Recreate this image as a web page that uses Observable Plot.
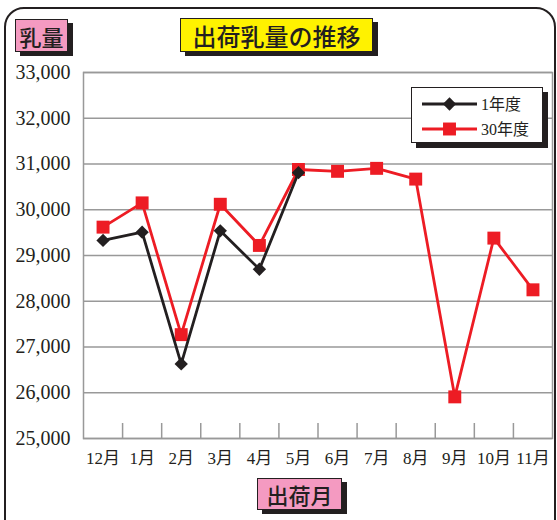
<!DOCTYPE html>
<html><head><meta charset="utf-8">
<script src="https://cdn.jsdelivr.net/npm/d3@7"></script>
<script src="https://cdn.jsdelivr.net/npm/@observablehq/plot@0.6"></script>
<style>
body{margin:0;background:#fff;}
#wrap{position:relative;width:557px;height:520px;overflow:hidden;background:#fff;}
#wrap svg.plot{position:absolute;left:0;top:0;}
.box{position:absolute;box-sizing:border-box;border:1px solid #231f20;box-shadow:5px 4px 0 #231f20;color:#231f20;
 font-family:"Noto Sans CJK JP",sans-serif;font-weight:500;display:flex;align-items:center;justify-content:center;}
#border{position:absolute;left:4px;top:7px;width:552px;height:540px;box-sizing:border-box;border:2.5px solid #231f20;border-radius:20px;}
#legend{position:absolute;left:411px;top:87px;width:132px;height:56px;box-sizing:border-box;border:1.5px solid #231f20;background:#fff;box-shadow:5px 5px 0 #231f20;}
</style></head>
<body>
<div id="wrap">
<div id="border"></div>
</div>
<script>
const months = ["12月","1月","2月","3月","4月","5月","6月","7月","8月","9月","10月","11月"];
const seriesNames = ["1年度","30年度"];
const values1 = [29330, 29510, 26630, 29540, 28700, 30810];
const values2 = [29620, 30150, 27270, 30120, 29220, 30880, 30840, 30905, 30670, 25910, 29380, 28250];
const yTicks = [25000, 26000, 27000, 28000, 29000, 30000, 31000, 32000, 33000];
const titleText = "出荷乳量の推移";
const yTitle = "乳量";
const xTitle = "出荷月";
const colors = ["#231f20", "#ed1c24"];

const d1 = values1.map((v, i) => ({i, v}));
const d2 = values2.map((v, i) => ({i, v}));
const idx = months.map((m, i) => i);
const bounds = months.slice(1).map((m, i) => i + 0.5);

const chart = Plot.plot({
  width: 557, height: 520,
  marginLeft: 83, marginRight: 5, marginTop: 72, marginBottom: 82,
  x: {domain: [-0.5, months.length - 0.5]},
  y: {domain: [yTicks[0], yTicks[yTicks.length - 1]]},
  style: {background: "transparent", fontFamily: "'Liberation Serif','Noto Sans CJK JP',serif", color: "#231f20"},
  marks: [
    Plot.gridY(yTicks, {stroke: "#999", strokeOpacity: 1, strokeWidth: 1.5}),
    Plot.frame({stroke: "#999", strokeWidth: 1.5}),
    Plot.axisX(bounds, {tickSize: -15, stroke: "#999", strokeWidth: 1.5, tickFormat: null, text: null, label: null}),
    Plot.axisX(idx, {tickSize: 0, tickPadding: 13, tickFormat: i => months[i], fontSize: 17, label: null, fill: "#231f20"}),
    Plot.axisY(yTicks, {tickSize: 0, tickPadding: 13, tickFormat: d3.format(","), fontSize: 20, label: null, fill: "#231f20"}),
    Plot.line(d2, {x: "i", y: "v", stroke: colors[1], strokeWidth: 2.8}),
    Plot.dot(d2, {x: "i", y: "v", symbol: "square", r: 7.3, fill: colors[1], stroke: "none"}),
    Plot.line(d1, {x: "i", y: "v", stroke: colors[0], strokeWidth: 2.8}),
    Plot.dot(d1, {x: "i", y: "v", symbol: "diamond2", r: 6, fill: colors[0], stroke: "none"})
  ]
});
chart.classList.add("plot");
const wrap = document.getElementById("wrap");
wrap.appendChild(chart);

function addBox(text, left, top, w, h, bg, fs) {
  const b = document.createElement("div");
  b.className = "box";
  Object.assign(b.style, {left: left + "px", top: top + "px", width: w + "px", height: h + "px", background: bg, fontSize: fs + "px"});
  b.textContent = text;
  wrap.appendChild(b);
}
addBox(yTitle, 15, 19, 53, 33, "#f49ac1", 22);
addBox(titleText, 180, 18, 193, 34, "#fff200", 24);
addBox(xTitle, 257, 478, 85, 32, "#f49ac1", 22);

// legend
const lg = document.createElement("div");
lg.id = "legend";
const ns = "http://www.w3.org/2000/svg";
const svg = document.createElementNS(ns, "svg");
svg.setAttribute("width", 130); svg.setAttribute("height", 54);
svg.style.position = "absolute"; svg.style.left = "0"; svg.style.top = "0";
seriesNames.forEach((name, k) => {
  const y = 16 + k * 25;
  const line = document.createElementNS(ns, "line");
  line.setAttribute("x1", 10); line.setAttribute("x2", 65);
  line.setAttribute("y1", y); line.setAttribute("y2", y);
  line.setAttribute("stroke", colors[k]); line.setAttribute("stroke-width", 2.8);
  svg.appendChild(line);
  const mk = document.createElementNS(ns, "path");
  const sym = k === 0 ? d3.symbol(d3.symbolDiamond2, Math.PI * 6 * 6) : d3.symbol(d3.symbolSquare, Math.PI * 7.3 * 7.3);
  mk.setAttribute("d", sym());
  mk.setAttribute("transform", `translate(37.5,${y})`);
  mk.setAttribute("fill", colors[k]);
  svg.appendChild(mk);
  const t = document.createElementNS(ns, "text");
  t.setAttribute("x", 69); t.setAttribute("y", y);
  t.setAttribute("dy", "0.35em");
  t.setAttribute("font-size", 16);
  t.setAttribute("fill", "#231f20");
  t.setAttribute("font-family", "'Liberation Serif','Noto Sans CJK JP',serif");
  t.textContent = name;
  svg.appendChild(t);
});
lg.appendChild(svg);
wrap.appendChild(lg);
</script>
</body></html>
